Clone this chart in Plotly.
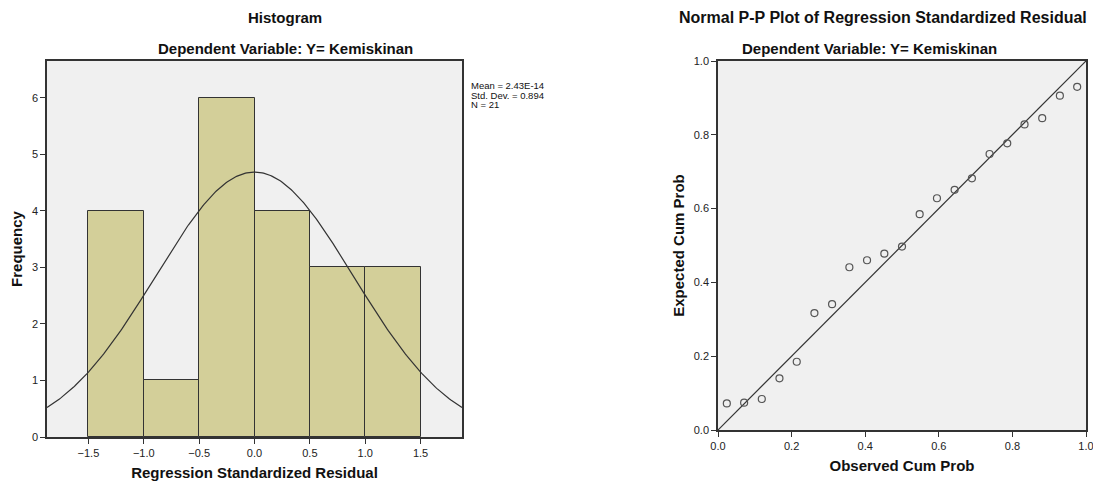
import numpy as np
import plotly.graph_objects as go

# ---- data ----
bin_left = [-1.5, -1.0, -0.5, 0.0, 0.5, 1.0]
bin_width = 0.5
counts = [4, 1, 6, 4, 3, 3]
res_mean = 2.43e-14
res_sd = 0.894
res_n = 21

obs_cum = [0.024, 0.071, 0.119, 0.167, 0.214, 0.262, 0.310, 0.357, 0.405, 0.452, 0.500,
           0.548, 0.595, 0.643, 0.690, 0.738, 0.786, 0.833, 0.881, 0.929, 0.976]
exp_cum = [0.072, 0.074, 0.084, 0.140, 0.185, 0.317, 0.341, 0.441, 0.460, 0.478, 0.497,
           0.585, 0.628, 0.651, 0.682, 0.748, 0.777, 0.828, 0.845, 0.906, 0.930]

hist_xticks = [-1.5, -1.0, -0.5, 0.0, 0.5, 1.0, 1.5]
hist_yticks = [0, 1, 2, 3, 4, 5, 6]
pp_ticks = [0.0, 0.2, 0.4, 0.6, 0.8, 1.0]

W, H = 1093, 486
FONT = "Liberation Sans, Arial, sans-serif"
BAR = "#D3CF99"
BG = "#F0F0F0"
LINE = "#333333"


def px(x):
    return x / W


def py(y):
    return 1 - y / H


fig = go.Figure()

# histogram bars
centers = [b + bin_width / 2 for b in bin_left]
fig.add_trace(go.Bar(x=centers, y=counts, width=bin_width, marker=dict(color=BAR, line=dict(color=LINE, width=1)),
                     xaxis="x", yaxis="y", showlegend=False, hoverinfo="skip"))

# fitted normal curve from displayed statistics
xr = (-1.874, 1.874)
xs = np.linspace(xr[0], xr[1], 300)
ys = res_n * bin_width / (res_sd * np.sqrt(2 * np.pi)) * np.exp(-0.5 * ((xs - res_mean) / res_sd) ** 2)
fig.add_trace(go.Scatter(x=xs, y=ys, mode="lines", line=dict(color=LINE, width=1.2),
                         xaxis="x", yaxis="y", showlegend=False, hoverinfo="skip"))

# P-P plot
fig.add_trace(go.Scatter(x=[0, 1], y=[0, 1], mode="lines", line=dict(color=LINE, width=1.2),
                         xaxis="x2", yaxis="y2", showlegend=False, hoverinfo="skip"))
fig.add_trace(go.Scatter(x=obs_cum, y=exp_cum, mode="markers",
                         marker=dict(symbol="circle-open", size=7, color="#555555", line=dict(width=1.2)),
                         xaxis="x2", yaxis="y2", showlegend=False, hoverinfo="skip"))

axis_common = dict(showgrid=False, zeroline=False, showline=True, linecolor=LINE, linewidth=1.5,
                   mirror=True, ticks="outside", ticklen=5, tickcolor=LINE, automargin=False,
                   ticklabeloverflow="allow",
                   tickfont=dict(family=FONT, size=11, color="#222"))
TFONT = dict(family=FONT, size=15, color="#111")

fig.update_layout(
    width=W, height=H, margin=dict(l=0, r=0, t=0, b=0, autoexpand=False),
    paper_bgcolor="white", plot_bgcolor=BG, bargap=0,
    font=dict(family=FONT),
    xaxis=dict(axis_common, domain=[px(47), px(462)], range=list(xr), tickvals=hist_xticks,
               tickformat=".1f", anchor="y",
               title=dict(text="<b>Regression Standardized Residual</b>", font=TFONT, standoff=10)),
    yaxis=dict(axis_common, domain=[py(437), py(61)], range=[0, 6.65], tickvals=hist_yticks,
               anchor="x",
               title=dict(text="<b>Frequency</b>", font=TFONT, standoff=6)),
    xaxis2=dict(axis_common, domain=[px(718), px(1086)], range=[0, 1], tickvals=pp_ticks, tickformat=".1f",
                anchor="y2",
                title=dict(text="<b>Observed Cum Prob</b>", font=TFONT, standoff=10)),
    yaxis2=dict(axis_common, domain=[py(430), py(61)], range=[0, 1], tickvals=pp_ticks,
                tickformat=".1f", anchor="x2",
                title=dict(text="<b>Expected Cum Prob</b>", font=TFONT, standoff=6)),
)


def text_ann(text, xpix, ypix, size=15, xanchor="center"):
    fig.add_annotation(text=text, xref="paper", yref="paper", x=px(xpix), y=py(ypix),
                       xanchor=xanchor, yanchor="middle", showarrow=False,
                       font=dict(family=FONT, size=size, color="#111"))


text_ann("<b>Histogram</b>", 285, 18)
text_ann("<b>Dependent Variable: Y= Kemiskinan</b>", 285, 48)
text_ann("<b>Normal P-P Plot of Regression Standardized Residual</b>", 883, 18, size=16)
text_ann("<b>Dependent Variable: Y= Kemiskinan</b>", 869, 48)

stats_lines = [f"Mean = {res_mean:.2E}", f"Std. Dev. = {res_sd:.3f}", f"N = {res_n}"]
for i, line in enumerate(stats_lines):
    text_ann(line, 469, 86 + 9 * i, size=9.5, xanchor="left")

fig.write_html("out.html", config={"displayModeBar": False},
               post_script="document.body.style.margin='0';document.body.style.overflow='hidden';")
